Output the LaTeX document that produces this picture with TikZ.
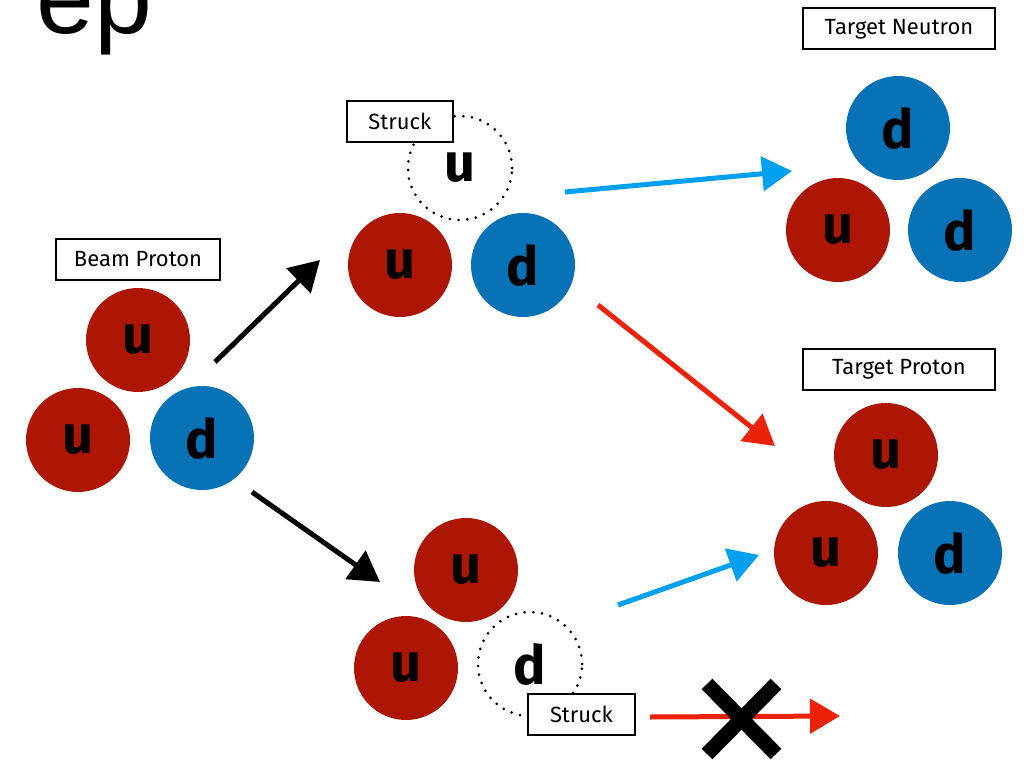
\documentclass[tikz,border=0pt]{standalone}
\usepackage{fontspec}
\setmainfont{Fira Sans}
\newfontfamily\epfont{Liberation Sans}
\usetikzlibrary{arrows.meta}
\definecolor{qred}{RGB}{172,22,2}
\definecolor{qblue}{RGB}{8,114,182}
\definecolor{ablue}{RGB}{0,160,240}
\definecolor{ared}{RGB}{236,34,8}
\tikzset{
  quark/.style={circle, minimum size=104pt, inner sep=0pt, font=\fontsize{54}{54}\selectfont\bfseries, text=black},
  uq/.style={quark, fill=qred},
  dq/.style={quark, fill=qblue},
  struckq/.style={quark, fill=white, draw=black, line width=3pt, line cap=round, dash pattern=on 0pt off 8.7pt},
  lbl/.style={draw=black, fill=white, line width=2pt, inner sep=0pt, minimum height=41pt, font=\fontsize{22}{22}\selectfont},
  arr/.style={line width=5pt, -{Triangle[length=30pt, width=34pt]}, shorten >=0pt},
}
\begin{document}
\begin{tikzpicture}[x=1pt, y=-1pt]
\useasboundingbox (0,0) rectangle (1029,760);
\fill[white] (0,0) rectangle (1029,760);
% title
\node[anchor=base west, inner sep=0pt, font=\epfont\fontsize{104}{104}\selectfont] (title) at (36,34) {ep};
% beam proton
\node[uq] (b1) at (138,340) {u};
\node[uq] (b2) at (78,440) {u};
\node[dq] (b3) at (202,438) {d};
\node[lbl, minimum width=164pt] (lbeam) at (138,259) {Beam Proton};
% top struck
\node[struckq] (s1) at (460,168) {u};
\node[uq] (s2) at (400,265) {u};
\node[dq] (s3) at (523,265) {d};
\node[lbl, minimum width=106pt] (lstruck1) at (400,121.5) {Struck};
% target neutron
\node[dq] (n1) at (898,128) {d};
\node[uq] (n2) at (838,230) {u};
\node[dq] (n3) at (960,230) {d};
\node[lbl, minimum width=192pt] (lneut) at (899,29) {Target Neutron};
% target proton
\node[uq] (p1) at (886,455) {u};
\node[uq] (p2) at (826,553) {u};
\node[dq] (p3) at (950,553) {d};
\node[lbl, minimum width=192pt] (lprot) at (899,369) {Target Proton};
% bottom struck
\node[uq] (t1) at (466,570) {u};
\node[uq] (t2) at (406,668) {u};
\node[struckq] (t3) at (530,664) {d};
\node[lbl, minimum width=107pt] (lstruck2) at (581.5,714) {Struck};
% arrow endpoints
\coordinate (a1s) at (215,362); \coordinate (a1e) at (320,260);
\coordinate (a2s) at (252,492); \coordinate (a2e) at (380,582);
\coordinate (a3s) at (565,192); \coordinate (a3e) at (792,171);
\coordinate (a4s) at (598,305); \coordinate (a4e) at (775,446);
\coordinate (a5s) at (618,605); \coordinate (a5e) at (759,555);
\coordinate (a6s) at (650,717); \coordinate (a6e) at (840,716);
\draw[arr, black] (a1s) -- (a1e);
\draw[arr, black] (a2s) -- (a2e);
\draw[arr, ablue] (a3s) -- (a3e);
\draw[arr, ared] (a4s) -- (a4e);
\draw[arr, ablue] (a5s) -- (a5e);
\draw[arr, ared] (a6s) -- (a6e);
% cross
\coordinate (x1) at (707,684); \coordinate (x2) at (776,754);
\coordinate (x3) at (776,684); \coordinate (x4) at (707,754);
\draw[line width=15pt, black] (x1) -- (x2);
\draw[line width=15pt, black] (x3) -- (x4);
\end{tikzpicture}
\end{document}
